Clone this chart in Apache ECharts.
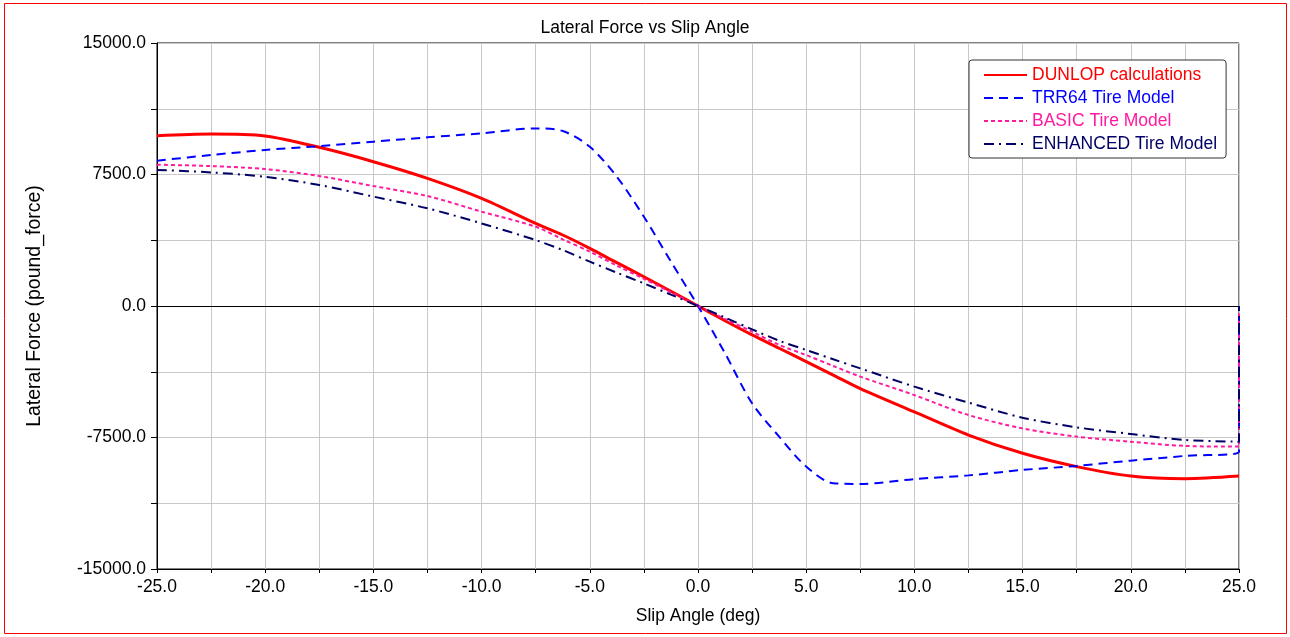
<!DOCTYPE html>
<html>
<head>
<meta charset="utf-8">
<title>Lateral Force vs Slip Angle</title>
<script src="https://cdn.jsdelivr.net/npm/echarts@6/dist/echarts.min.js"></script>
<style>
  html, body { margin: 0; padding: 0; background: #ffffff; }
  #chart { width: 1290px; height: 637px; }
</style>
</head>
<body>
<div id="chart"></div>
<script>
// Slip angle samples (deg)
const slipAngle = [-25, -22.5, -20, -17.5, -15, -12.5, -10, -7.5, -6.25, -5, -3.75, -2.5, -1.25, 0,
                   1.25, 2.5, 3.75, 5, 6.25, 7.5, 10, 12.5, 15, 17.5, 20, 22.5, 25];

// Lateral force (pound_force) per model at each slip angle
const dunlop = [9710, 9810, 9700, 9050, 8230, 7280, 6140, 4710, 4050, 3290, 2470, 1670, 840, 0,
                -840, -1650, -2410, -3170, -3940, -4710, -6040, -7360, -8400, -9160, -9700, -9850, -9700];
const trr64 = [8290, 8610, 8900, 9120, 9370, 9620, 9850, 10130, 9980, 9080, 7370, 5090, 2530, 0,
               -2700, -5550, -7450, -9160, -10110, -10150, -9870, -9660, -9350, -9120, -8820, -8550, -8310];
const basic = [8060, 7980, 7810, 7410, 6840, 6270, 5380, 4520, 3800, 3100, 2300, 1550, 780, 0,
               -740, -1460, -2220, -2800, -3420, -4030, -5080, -6220, -6980, -7450, -7740, -7980, -8020];
const enhanced = [7760, 7620, 7370, 6900, 6240, 5570, 4710, 3760, 3190, 2530, 1900, 1290, 650, 0,
                  -660, -1330, -1980, -2510, -3040, -3560, -4600, -5510, -6370, -6920, -7300, -7640, -7740];
// The tire-model traces drop back to zero at the last slip angle
const endValue = 0;

const xTicks = { min: -25, max: 25, step: 2.5, labelStep: 5 };
const yTicks = { min: -15000, max: 15000, step: 3750, labelStep: 7500 };

const seriesNames = ['DUNLOP calculations', 'TRR64 Tire Model', 'BASIC Tire Model', 'ENHANCED Tire Model'];
const seriesColors = ['#ff0000', '#0000ff', '#ff1aa0', '#000066'];

function pairs(values, closeAtEnd) {
  const pts = slipAngle.map((x, i) => [x, values[i]]);
  if (closeAtEnd) pts.push([slipAngle[slipAngle.length - 1], endValue]);
  return pts;
}

const FONT = 'Liberation Sans, Arial, sans-serif';
const FS = 17.5;

const chart = echarts.init(document.getElementById('chart'), null, { renderer: 'canvas' });

chart.setOption({
  animation: false,
  backgroundColor: '#ffffff',
  title: {
    text: 'Lateral Force vs Slip Angle',
    left: 'center',
    top: 14,
    textStyle: { fontFamily: FONT, fontSize: FS, fontWeight: 'normal', color: '#000000' }
  },
  graphic: [{
    type: 'rect',
    shape: { x: 4.5, y: 3.5, width: 1282, height: 630 },
    style: { fill: 'none', stroke: '#ff0000', lineWidth: 1 },
    silent: true,
    z: -1
  }],
  grid: {
    left: 157, right: 51, top: 43, bottom: 68,
    show: true, borderColor: '#000000', borderWidth: 1, backgroundColor: 'transparent'
  },
  legend: {
    orient: 'vertical',
    left: 969, top: 60,
    padding: [5, 9, 4, 14],
    itemWidth: 43, itemHeight: 14, itemGap: 3,
    backgroundColor: '#ffffff',
    borderColor: '#333333', borderWidth: 1, borderRadius: 3,
    itemStyle: { opacity: 0 },
    textStyle: { fontFamily: FONT, fontSize: FS, lineHeight: 20 },
    data: seriesNames.map((n, i) => ({ name: n, textStyle: { color: seriesColors[i] } }))
  },
  xAxis: {
    type: 'value',
    min: xTicks.min, max: xTicks.max, interval: xTicks.step,
    name: 'Slip Angle (deg)', nameLocation: 'middle', nameGap: 38,
    nameTextStyle: { fontFamily: FONT, fontSize: FS, color: '#000000' },
    axisLine: { onZero: false, lineStyle: { color: '#000000', width: 1 } },
    axisTick: { show: true, length: 4, lineStyle: { color: '#000000' } },
    axisLabel: {
      fontFamily: FONT, fontSize: FS, color: '#000000', margin: 9,
      formatter: v => (Math.abs(v % xTicks.labelStep) < 1e-9 ? v.toFixed(1) : '')
    },
    splitLine: { show: true, lineStyle: { color: '#c8c8c8', width: 1 } }
  },
  yAxis: {
    type: 'value',
    min: yTicks.min, max: yTicks.max, interval: yTicks.step,
    name: 'Lateral Force (pound_force)', nameLocation: 'middle', nameGap: 112, nameRotate: 90,
    nameTextStyle: { fontFamily: FONT, fontSize: 19.5, color: '#000000' },
    axisLine: { onZero: false, lineStyle: { color: '#000000', width: 1 } },
    axisTick: { show: true, length: 6, lineStyle: { color: '#000000' } },
    axisLabel: {
      fontFamily: FONT, fontSize: FS, color: '#000000', margin: 11,
      formatter: v => (Math.abs(v % yTicks.labelStep) < 1e-9 ? v.toFixed(1) : '')
    },
    splitLine: { show: true, lineStyle: { color: '#c8c8c8', width: 1 } }
  },
  series: [
    {
      name: seriesNames[0], type: 'line', smooth: 0.3, symbol: 'none',
      data: pairs(dunlop, false),
      lineStyle: { color: seriesColors[0], width: 3, type: 'solid' },
      itemStyle: { color: seriesColors[0] },
      markLine: {
        silent: true, symbol: 'none', label: { show: false },
        lineStyle: { color: '#000000', width: 1, type: 'solid' },
        data: [{ yAxis: 0 }],
        z: 1
      }
    },
    {
      name: seriesNames[1], type: 'line', smooth: 0.3, symbol: 'none',
      data: pairs(trr64, true),
      lineStyle: { color: seriesColors[1], width: 2, type: [9, 6] },
      itemStyle: { color: seriesColors[1] }
    },
    {
      name: seriesNames[2], type: 'line', smooth: 0.3, symbol: 'none',
      data: pairs(basic, true),
      lineStyle: { color: seriesColors[2], width: 2, type: [4, 3] },
      itemStyle: { color: seriesColors[2] }
    },
    {
      name: seriesNames[3], type: 'line', smooth: 0.3, symbol: 'none',
      data: pairs(enhanced, true),
      lineStyle: { color: seriesColors[3], width: 2, type: [10, 5, 2, 5] },
      itemStyle: { color: seriesColors[3] }
    }
  ]
});
</script>
</body>
</html>
